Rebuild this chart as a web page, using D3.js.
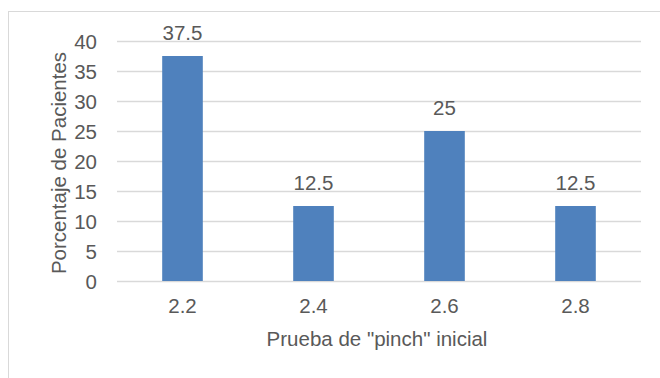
<!DOCTYPE html>
<html>
<head>
<meta charset="utf-8">
<script src="https://cdn.jsdelivr.net/npm/d3@7/dist/d3.min.js"></script>
<style>
  html, body { margin: 0; padding: 0; background: #fff; }
  svg { display: block; }
  text { font-family: "Liberation Sans", Arial, sans-serif; fill: #595959; }
</style>
</head>
<body>
<svg id="chart" width="660" height="378"></svg>
<script>
// Pinch test values and share of patients (%)
const categories = ["2.2", "2.4", "2.6", "2.8"];
const values = [37.5, 12.5, 25, 12.5];
const yTicks = [0, 5, 10, 15, 20, 25, 30, 35, 40];
const yTitle = "Porcentaje de Pacientes";
const xTitle = "Prueba de \"pinch\" inicial";

const FONT = 20.5;
const svg = d3.select("#chart");
const plot = { left: 117, right: 641, top: 41, bottom: 281 };

// outer frame (only top and left edges fall inside the view)
svg.append("rect")
  .attr("x", 8.5).attr("y", 11.5)
  .attr("width", 700).attr("height", 400)
  .attr("fill", "none").attr("stroke", "#d9d9d9").attr("stroke-width", 1);

const x = d3.scaleBand().domain(categories).range([plot.left, plot.right]).paddingInner(0.69).paddingOuter(0.345);
const y = d3.scaleLinear().domain([0, 40]).range([plot.bottom, plot.top]);

// gridlines
svg.append("g")
  .attr("transform", `translate(${plot.left},0)`)
  .call(d3.axisLeft(y).tickValues(yTicks).tickSize(-(plot.right - plot.left)).tickFormat(""))
  .call(g => g.select(".domain").remove())
  .call(g => g.selectAll("line").attr("stroke", "#d9d9d9").attr("stroke-width", 1.5));

// y tick labels
svg.append("g")
  .attr("transform", `translate(${plot.left - 20},0)`)
  .call(d3.axisLeft(y).tickValues(yTicks).tickSize(0).tickPadding(0))
  .call(g => g.select(".domain").remove())
  .call(g => g.selectAll("text").attr("font-size", FONT).attr("dy", "0.36em").style("fill", "#595959")
      .attr("font-family", "'Liberation Sans', Arial, sans-serif"));

// bars
svg.append("g").selectAll("rect")
  .data(values)
  .join("rect")
  .attr("x", (d, i) => x(categories[i]))
  .attr("y", d => y(d))
  .attr("width", x.bandwidth())
  .attr("height", d => y(0) - y(d))
  .attr("fill", "#4f81bd");

// value labels
svg.append("g").selectAll("text")
  .data(values)
  .join("text")
  .attr("x", (d, i) => x(categories[i]) + x.bandwidth() / 2)
  .attr("y", d => y(d) - 16)
  .attr("text-anchor", "middle")
  .attr("font-size", FONT)
  .text(d => d);

// x axis labels
svg.append("g")
  .attr("transform", `translate(0,${plot.bottom})`)
  .call(d3.axisBottom(x).tickSize(0).tickPadding(0))
  .call(g => g.select(".domain").remove())
  .call(g => g.selectAll("text").attr("font-size", FONT).attr("y", 32).attr("dy", null).style("fill", "#595959")
      .attr("font-family", "'Liberation Sans', Arial, sans-serif"));

// axis titles
svg.append("text")
  .attr("x", 377)
  .attr("y", 346)
  .attr("text-anchor", "middle")
  .attr("font-size", FONT)
  .text(xTitle);

svg.append("text")
  .attr("transform", `translate(66,${(plot.top + plot.bottom) / 2 + 2}) rotate(-90)`)
  .attr("text-anchor", "middle")
  .attr("font-size", FONT)
  .text(yTitle);
</script>
</body>
</html>
